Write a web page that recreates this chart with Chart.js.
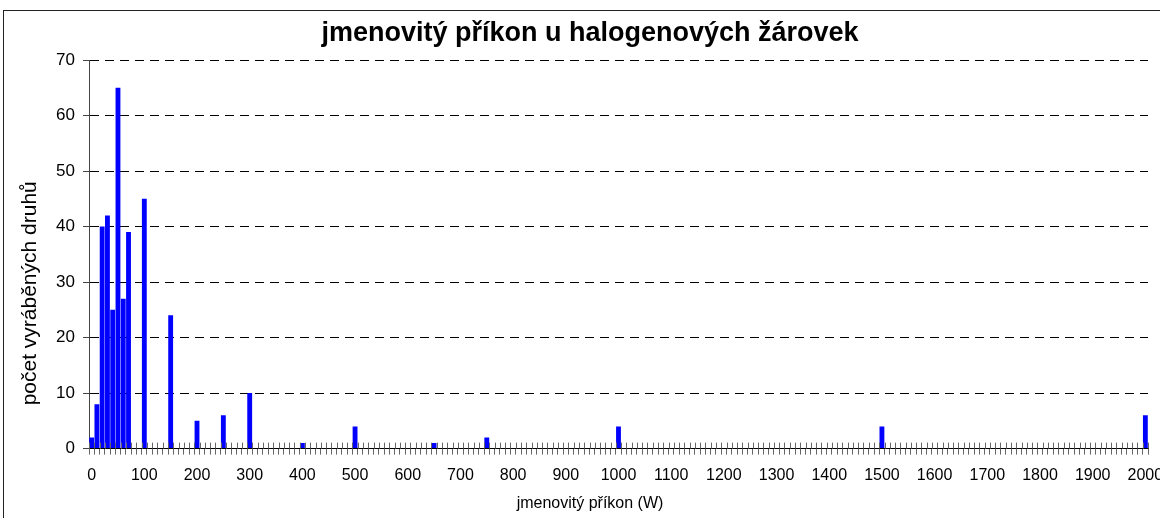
<!DOCTYPE html>
<html>
<head>
<meta charset="utf-8">
<script src="https://cdn.jsdelivr.net/npm/chart.js@4"></script>
<style>
  html, body { margin: 0; padding: 0; background: #fff; overflow: hidden; }
  #wrap { position: absolute; left: 0; top: 0; width: 1180px; height: 518px; }
  #frame { position: absolute; left: 3px; top: 10px; width: 1300px; height: 700px;
           border: 1px solid #222; pointer-events: none; }
</style>
</head>
<body>
<div id="wrap"><canvas id="powerChart"></canvas></div>
<div id="frame"></div>
<script>
// rated power (W) that appears in the data and how many types are made
const powerWatts = [0, 10, 20, 30, 40, 50, 60, 70, 100, 150, 200, 250, 300, 400, 500, 650, 750, 1000, 1500, 2000];
const typeCounts = [2, 8, 40, 42, 25, 65, 27, 39, 45, 24, 5, 6, 10, 1, 4, 1, 2, 4, 4, 6];

// category axis: every 10 W from 0 to 2000, a label every 100 W
const categoryStep = 10;
const categoryMax = 2000;
const labelEvery = 10;
const yTicks = [0, 10, 20, 30, 40, 50, 60, 70];

const categories = [];
for (let w = 0; w <= categoryMax; w += categoryStep) categories.push(String(w));
const barData = categories.map(c => {
    const i = powerWatts.indexOf(Number(c));
    return i >= 0 ? typeCounts[i] : null;
});

const FONT = '"Liberation Sans", Arial, sans-serif';
const yTitle = 'počet vyráběných druhů';

// Excel style tick marks that cross the category axis
const crossTicks = {
    id: 'crossTicks',
    afterDraw(chart) {
        const xs = chart.scales.x;
        const ctx = chart.ctx;
        const w = xs.getPixelForValue(1) - xs.getPixelForValue(0);
        const start = xs.getPixelForValue(0) - w / 2;
        const y = chart.chartArea.bottom;
        ctx.save();
        ctx.strokeStyle = '#666';
        ctx.lineWidth = 1;
        ctx.beginPath();
        for (let i = 0; i <= categories.length; i++) {
            const x = Math.round(start + i * w) + 0.5;
            ctx.moveTo(x, y - 6);
            ctx.lineTo(x, y);
        }
        ctx.stroke();
        ctx.restore();
    }
};

// y title sits a bit lower than the axis middle in the original
const yTitlePlugin = {
    id: 'yTitlePlugin',
    afterDraw(chart) {
        const ctx = chart.ctx;
        const area = chart.chartArea;
        ctx.save();
        ctx.translate(30, (area.top + area.bottom) / 2 + 39);
        ctx.rotate(-Math.PI / 2);
        ctx.fillStyle = '#000';
        ctx.font = '21px ' + FONT;
        ctx.textAlign = 'center';
        ctx.textBaseline = 'middle';
        ctx.fillText(yTitle, 0, 0);
        ctx.restore();
    }
};

new Chart(document.getElementById('powerChart'), {
    type: 'bar',
    data: {
        labels: categories,
        datasets: [{
            data: barData,
            backgroundColor: '#0000ff',
            borderWidth: 0,
            categoryPercentage: 1,
            barPercentage: 0.92
        }]
    },
    plugins: [crossTicks, yTitlePlugin],
    options: {
        responsive: true,
        maintainAspectRatio: false,
        animation: false,
        layout: { padding: { left: 32, right: 32, top: 0, bottom: 0 } },
        plugins: {
            legend: { display: false },
            tooltip: { enabled: false },
            title: {
                display: true,
                text: 'jmenovitý příkon u halogenových žárovek',
                color: '#000',
                font: { family: FONT, size: 27, weight: 'bold' },
                padding: { top: 17, bottom: 10.6 }
            },
            // x axis caption, centred on the whole chart like the original
            subtitle: {
                display: true,
                position: 'bottom',
                text: 'jmenovitý příkon (W)',
                color: '#000',
                font: { family: FONT, size: 16 },
                padding: { top: -2, bottom: 5 }
            }
        },
        scales: {
            x: {
                type: 'category',
                offset: true,
                grid: { offset: true, drawOnChartArea: false, tickLength: 6, color: '#666' },
                border: { display: true, color: '#000', width: 1 },
                ticks: {
                    autoSkip: false,
                    maxRotation: 0,
                    minRotation: 0,
                    padding: 11,
                    color: '#000',
                    font: { family: FONT, size: 16 },
                    callback: function (v, i) {
                        return i % labelEvery === 0 ? this.getLabelForValue(v) : '';
                    }
                }
            },
            y: {
                min: 0,
                max: 70,
                afterBuildTicks: axis => { axis.ticks = yTicks.map(v => ({ value: v })); },
                afterFit: axis => { axis.width = 57; },
                grid: { color: '#000', tickLength: 6, tickColor: '#444' },
                border: { display: true, color: '#444', dash: [9, 6] },
                ticks: {
                    padding: 8,
                    color: '#000',
                    font: { family: FONT, size: 17 }
                }
            }
        }
    }
});
</script>
</body>
</html>
